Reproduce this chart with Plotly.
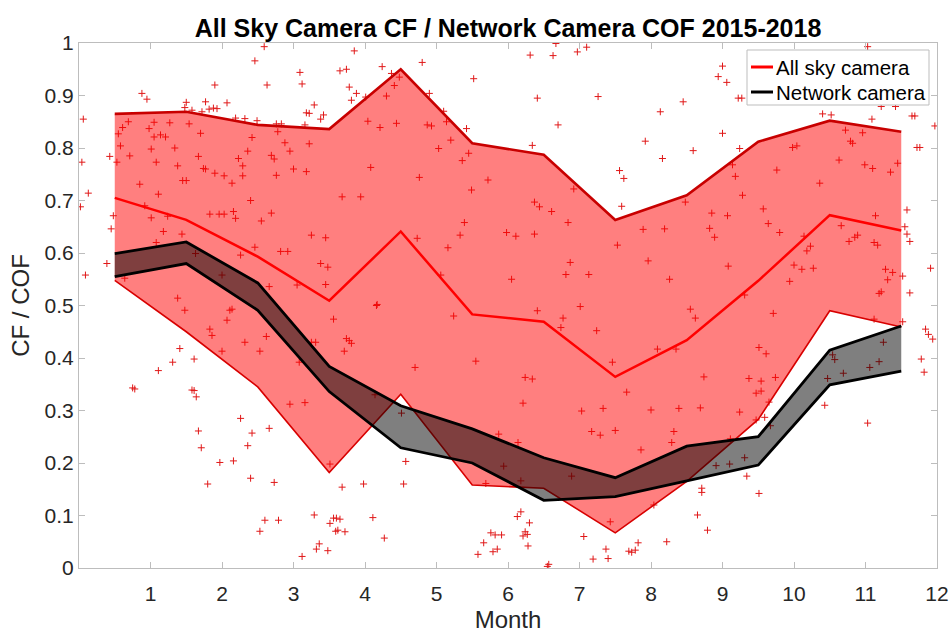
import plotly.graph_objects as go

# ---------------- data ----------------
month_pos = [0.5, 1.5, 2.5, 3.5, 4.5, 5.5, 6.5, 7.5, 8.5, 9.5, 10.5, 11.5]

sky_upper = [0.865, 0.869, 0.844, 0.836, 0.950, 0.809, 0.787, 0.663, 0.710, 0.812, 0.852, 0.831]
sky_median = [0.705, 0.663, 0.593, 0.509, 0.641, 0.483, 0.469, 0.364, 0.434, 0.547, 0.672, 0.643]
sky_lower = [0.548, 0.450, 0.345, 0.182, 0.331, 0.158, 0.152, 0.067, 0.165, 0.283, 0.490, 0.459]

net_upper = [0.599, 0.621, 0.543, 0.384, 0.309, 0.265, 0.210, 0.172, 0.232, 0.250, 0.415, 0.461]
net_lower = [0.555, 0.580, 0.491, 0.336, 0.229, 0.200, 0.129, 0.136, 0.166, 0.196, 0.349, 0.375]

series_names = ["All sky camera", "Network camera"]

pts_jan_mar_high = [
    (2.59, 0.993), (2.46, 0.966), (2.63, 0.92), (1.90, 0.92), (0.88, 0.904), (0.95, 0.893), (1.50, 0.887),
    (1.77, 0.888), (2.07, 0.886), (1.48, 0.877), (1.58, 0.872), (1.72, 0.869), (1.82, 0.874), (1.88, 0.876),
    (1.93, 0.875), (2.19, 0.857), (2.32, 0.856), (2.49, 0.852), (2.76, 0.846), (2.83, 0.846), (0.06, 0.855),
    (0.69, 0.85), (0.61, 0.839), (0.55, 0.827), (1.05, 0.849), (1.27, 0.848), (1.54, 0.846), (0.98, 0.837),
    (1.05, 0.821), (1.14, 0.825), (1.21, 0.821), (1.70, 0.828), (2.42, 0.82), (2.78, 0.831), (0.58, 0.804),
    (1.01, 0.798), (1.34, 0.80), (2.36, 0.794), (2.88, 0.81), (2.95, 0.794), (0.43, 0.784), (0.04, 0.773),
    (0.71, 0.785), (0.53, 0.773), (1.08, 0.773), (1.38, 0.766), (1.67, 0.784), (1.74, 0.761), (1.77, 0.76),
    (1.90, 0.752), (2.03, 0.747), (2.23, 0.78), (2.29, 0.766), (2.29, 0.747), (2.69, 0.786), (2.73, 0.779),
    (2.76, 0.748), (0.85, 0.731), (1.45, 0.738), (1.50, 0.738), (2.14, 0.733), (0.13, 0.714), (1.11, 0.712),
    (2.40, 0.70), (0.92, 0.69), (0.48, 0.671), (1.01, 0.667), (1.24, 0.67), (1.83, 0.674), (1.96, 0.674),
    (2.03, 0.674), (2.16, 0.679), (2.19, 0.666), (2.55, 0.661), (2.69, 0.676), (0.45, 0.646), (1.18, 0.641),
    (1.44, 0.636), (1.08, 0.62), (2.46, 0.611), (2.82, 0.603), (2.92, 0.603), (0.39, 0.58), (1.63, 0.599),
    (2.26, 0.596), (0.09, 0.558), (0.64, 0.552), (2.00, 0.558), (2.66, 0.536), (1.38, 0.514), (0.02, 0.688),
]
pts_apr_jun_high = [
    (3.85, 0.985), (3.09, 0.944), (3.12, 0.922), (3.65, 0.947), (3.74, 0.95), (4.24, 0.955), (4.80, 0.963),
    (5.52, 0.932), (3.78, 0.916), (3.88, 0.904), (3.81, 0.891), (4.01, 0.897), (4.37, 0.942), (4.41, 0.919),
    (4.48, 0.935), (4.30, 0.899), (4.90, 0.904), (3.29, 0.882), (3.18, 0.867), (3.22, 0.866), (3.42, 0.863),
    (3.38, 0.855), (3.16, 0.844), (4.04, 0.851), (4.21, 0.839), (4.44, 0.847), (4.87, 0.844), (4.93, 0.842),
    (5.10, 0.87), (5.14, 0.85), (5.42, 0.837), (3.22, 0.808), (5.20, 0.815), (5.03, 0.799), (5.45, 0.79),
    (5.36, 0.776), (3.00, 0.76), (3.18, 0.755), (4.08, 0.763), (4.76, 0.744), (5.72, 0.739), (5.49, 0.72),
    (3.68, 0.707), (3.94, 0.707), (5.39, 0.658), (5.98, 0.639), (3.25, 0.634), (3.45, 0.629), (4.73, 0.628),
    (5.33, 0.634), (5.16, 0.61), (3.38, 0.58), (3.48, 0.573), (5.06, 0.558), (3.45, 0.54), (3.05, 0.539),
    (4.17, 0.502),
]
pts_jul_sep_high = [
    (6.67, 0.999), (6.31, 0.977), (6.63, 0.976), (6.97, 0.983), (7.10, 0.992), (6.41, 0.895), (7.26, 0.898),
    (6.70, 0.844), (6.34, 0.805), (7.92, 0.813), (8.13, 0.869), (8.45, 0.888), (8.16, 0.78), (8.59, 0.795),
    (7.56, 0.757), (7.62, 0.742), (6.92, 0.722), (7.59, 0.689), (6.37, 0.697), (6.44, 0.688), (6.61, 0.679),
    (6.84, 0.658), (6.11, 0.632), (6.37, 0.636), (8.48, 0.697), (8.85, 0.676), (8.82, 0.647), (8.89, 0.63),
    (7.89, 0.645), (8.19, 0.646), (7.53, 0.615), (6.87, 0.582), (7.96, 0.585), (6.81, 0.559), (7.13, 0.559),
    (6.05, 0.55), (8.26, 0.55), (9.00, 0.956), (8.94, 0.936), (9.00, 0.828),
]
pts_oct_dec_high = [
    (11.03, 0.993), (9.06, 0.925), (9.22, 0.895), (9.27, 0.895), (10.40, 0.865), (10.52, 0.863), (11.09, 0.855),
    (11.22, 0.879), (11.42, 0.879), (11.65, 0.861), (11.69, 0.861), (11.97, 0.842), (10.72, 0.834),
    (10.79, 0.813), (10.82, 0.809), (10.96, 0.829), (11.72, 0.801), (11.76, 0.801), (9.24, 0.799), (9.98, 0.801),
    (10.04, 0.804), (10.63, 0.777), (10.99, 0.768), (11.10, 0.761), (11.35, 0.754), (11.45, 0.771),
    (9.14, 0.768), (9.18, 0.746), (9.76, 0.758), (10.36, 0.733), (9.28, 0.71), (9.57, 0.684), (9.64, 0.656),
    (9.80, 0.639), (10.14, 0.632), (10.18, 0.604), (10.23, 0.613), (10.66, 0.652), (10.77, 0.622),
    (10.85, 0.63), (10.89, 0.634), (11.14, 0.671), (11.12, 0.62), (11.17, 0.615), (11.58, 0.682), (11.55, 0.65),
    (11.58, 0.636), (11.62, 0.622), (9.07, 0.671), (9.08, 0.575), (10.00, 0.577), (10.11, 0.569),
    (10.27, 0.571), (9.94, 0.546), (11.28, 0.569), (11.38, 0.563), (11.31, 0.549), (11.52, 0.556),
    (11.19, 0.523), (11.22, 0.526), (11.62, 0.524), (11.91, 0.571), (9.31, 0.52),
]
pts_jan_mar_low = [
    (1.48, 0.491), (2.11, 0.491), (2.14, 0.493), (2.07, 0.472), (1.83, 0.455), (1.86, 0.443), (2.32, 0.43),
    (2.62, 0.441), (1.41, 0.418), (2.00, 0.413), (2.53, 0.413), (1.61, 0.398), (1.31, 0.392), (1.11, 0.376),
    (0.75, 0.343), (0.78, 0.341), (1.58, 0.339), (1.61, 0.338), (1.64, 0.326), (2.95, 0.312), (2.26, 0.285),
    (2.42, 0.257), (2.66, 0.266), (1.67, 0.261), (2.36, 0.233), (1.71, 0.229), (1.97, 0.201), (2.16, 0.204),
    (2.40, 0.171), (2.73, 0.163), (1.80, 0.16), (2.60, 0.091), (2.79, 0.091), (2.53, 0.07),
]
pts_apr_jun_low = [
    (4.16, 0.5), (3.56, 0.474), (5.24, 0.48), (3.74, 0.437), (3.78, 0.433), (3.81, 0.428), (3.31, 0.43),
    (3.25, 0.43), (3.71, 0.413), (3.08, 0.392), (4.70, 0.382), (5.55, 0.394), (3.16, 0.315), (4.14, 0.33),
    (4.51, 0.295), (5.87, 0.255), (5.94, 0.194), (3.51, 0.198), (4.57, 0.203), (5.69, 0.161), (3.68, 0.154),
    (3.98, 0.16), (4.54, 0.16), (3.29, 0.101), (3.51, 0.085), (3.56, 0.095), (3.60, 0.095), (3.65, 0.093),
    (4.11, 0.096), (3.59, 0.07), (3.62, 0.072), (3.72, 0.069), (4.27, 0.057), (3.36, 0.046), (3.32, 0.036),
    (3.48, 0.033), (3.12, 0.022), (5.76, 0.067), (5.82, 0.063), (5.91, 0.063), (5.66, 0.048), (5.58, 0.026),
    (5.79, 0.031), (5.85, 0.036),
]
pts_jul_sep_low = [
    (6.41, 0.49), (7.01, 0.498), (6.77, 0.476), (6.74, 0.458), (7.24, 0.452), (8.55, 0.493), (8.62, 0.476),
    (8.09, 0.417), (8.35, 0.417), (7.46, 0.392), (8.74, 0.364), (6.24, 0.363), (6.34, 0.36), (7.66, 0.335),
    (6.21, 0.314), (7.03, 0.299), (7.33, 0.304), (8.00, 0.301), (8.39, 0.304), (8.69, 0.305), (7.17, 0.26),
    (7.29, 0.253), (7.50, 0.262), (8.32, 0.26), (8.29, 0.239), (7.86, 0.225), (6.14, 0.239), (6.89, 0.175),
    (6.18, 0.166), (8.91, 0.195), (8.71, 0.152), (8.71, 0.144), (8.04, 0.12), (8.65, 0.101), (8.79, 0.072),
    (7.43, 0.088), (8.22, 0.05), (7.06, 0.06), (7.82, 0.048), (7.69, 0.032), (7.73, 0.03), (7.78, 0.034),
    (7.37, 0.036), (7.40, 0.018), (7.19, 0.017), (6.55, 0.003), (6.57, 0.007), (6.13, 0.098), (6.18, 0.107),
    (6.30, 0.086), (6.24, 0.069), (6.27, 0.064), (6.21, 0.061), (6.28, 0.042),
]
pts_oct_dec_low = [
    (9.71, 0.485), (11.12, 0.474), (11.52, 0.469), (11.84, 0.455), (11.88, 0.445), (11.94, 0.436), (9.51, 0.42),
    (9.61, 0.408), (11.25, 0.43), (10.54, 0.406), (10.57, 0.397), (11.78, 0.398), (11.82, 0.373),
    (11.19, 0.393), (11.06, 0.382), (9.37, 0.361), (9.54, 0.356), (9.74, 0.363), (9.47, 0.333), (9.54, 0.337),
    (10.47, 0.361), (10.69, 0.371), (9.65, 0.316), (9.24, 0.297), (9.47, 0.282), (9.59, 0.287), (9.67, 0.271),
    (10.43, 0.31), (11.03, 0.276), (9.11, 0.246), (9.10, 0.198), (9.31, 0.21), (9.34, 0.175), (9.51, 0.142),
]

x_ticks = [1, 2, 3, 4, 5, 6, 7, 8, 9, 10, 11, 12]
y_ticks = [0, 0.1, 0.2, 0.3, 0.4, 0.5, 0.6, 0.7, 0.8, 0.9, 1]
y_tick_labels = ["0", "0.1", "0.2", "0.3", "0.4", "0.5", "0.6", "0.7", "0.8", "0.9", "1"]

# ---------------- figure ----------------
all_pts = (pts_jan_mar_high + pts_apr_jun_high + pts_jul_sep_high + pts_oct_dec_high +
           pts_jan_mar_low + pts_apr_jun_low + pts_jul_sep_low + pts_oct_dec_low)
sx = [p[0] for p in all_pts]
sy = [p[1] for p in all_pts]

FONT = "Liberation Sans, Arial, sans-serif"
AX = "#bdbdbd"
W, H = 952, 633
L, R, T, B = 79, 15, 43, 65
PW, PH = W - L - R, H - T - B
fig = go.Figure()

fig.add_trace(go.Scatter(
    x=sx, y=sy, mode="markers", showlegend=False, hoverinfo="skip",
    marker=dict(symbol="cross-thin", size=5, line=dict(color="#e01818", width=1), color="#e01818"),
))

# red band
fig.add_trace(go.Scatter(
    x=month_pos + month_pos[::-1], y=sky_upper + sky_lower[::-1],
    fill="toself", fillcolor="rgba(255,0,0,0.5)", mode="lines",
    line=dict(width=0), showlegend=False, hoverinfo="skip",
))
fig.add_trace(go.Scatter(x=month_pos, y=sky_upper, mode="lines", showlegend=False,
                         line=dict(color="#c80000", width=2.6)))
fig.add_trace(go.Scatter(x=month_pos, y=sky_lower, mode="lines", showlegend=False,
                         line=dict(color="#d80000", width=1.6)))
fig.add_trace(go.Scatter(x=month_pos, y=sky_median, mode="lines", name=series_names[0], showlegend=False,
                         line=dict(color="#ff0000", width=2.5)))

# black band
fig.add_trace(go.Scatter(
    x=month_pos + month_pos[::-1], y=net_upper + net_lower[::-1],
    fill="toself", fillcolor="rgba(0,0,0,0.5)", mode="lines",
    line=dict(width=0), showlegend=False, hoverinfo="skip",
))
fig.add_trace(go.Scatter(x=month_pos, y=net_upper, mode="lines", name=series_names[1], showlegend=False,
                         line=dict(color="#000000", width=2.8)))
fig.add_trace(go.Scatter(x=month_pos, y=net_lower, mode="lines", showlegend=False,
                         line=dict(color="#000000", width=2.8)))

axis_common = dict(
    showline=True, linecolor=AX, linewidth=1, mirror="ticks",
    ticks="inside", ticklen=6, tickcolor=AX, tickwidth=1,
    showgrid=False, zeroline=False, automargin=False,
    tickfont=dict(family=FONT, size=21, color="#262626"),
)

# legend box (MATLAB-style, short line samples)
def px2paper(px, py):
    return (px - L) / float(PW), (H - B - py) / float(PH)

lx0, ly0 = px2paper(747, 105)
lx1, ly1 = px2paper(929, 50)
shapes = [dict(type="rect", xref="paper", yref="paper", x0=lx0, y0=ly0, x1=lx1, y1=ly1,
               line=dict(color=AX, width=1), fillcolor="white", layer="above")]
annotations = []
for name, color, py in [(series_names[0], "#ff0000", 67), (series_names[1], "#000000", 92)]:
    sx0, sy0 = px2paper(751, py)
    sx1, _ = px2paper(773, py)
    tx, _ = px2paper(774, py)
    shapes.append(dict(type="line", xref="paper", yref="paper", x0=sx0, x1=sx1, y0=sy0, y1=sy0,
                       line=dict(color=color, width=3), layer="above"))
    annotations.append(dict(xref="paper", yref="paper", x=tx, y=sy0, xanchor="left", yanchor="middle",
                            text=name, showarrow=False,
                            font=dict(family=FONT, size=20.5, color="#000000")))

fig.update_layout(
    width=W, height=H,
    margin=dict(l=L, r=R, t=T, b=B, autoexpand=False),
    paper_bgcolor="white", plot_bgcolor="white",
    title=dict(text="<b>All Sky Camera CF / Network Camera COF 2015-2018</b>",
               x=(L + PW / 2) / W, xanchor="center", y=1 - 28 / H, yanchor="middle",
               font=dict(family=FONT, size=25, color="#000000")),
    xaxis=dict(range=[0, 12], tickvals=x_ticks, ticktext=[str(v) for v in x_ticks],
               ticklabelstandoff=7,
               title=dict(text="Month", font=dict(family=FONT, size=24, color="#262626"), standoff=7),
               **axis_common),
    yaxis=dict(range=[0, 1], tickvals=y_ticks, ticktext=y_tick_labels,
               title=dict(text="CF / COF", font=dict(family=FONT, size=24, color="#262626"), standoff=8),
               **axis_common),
    shapes=shapes,
    annotations=annotations,
    showlegend=False,
)

# remove the browser's default 8px body margin so the 952x633 figure fills the window exactly
fig.write_html("out.html", config={"displayModeBar": False},
               post_script="document.body.style.margin='0px';document.body.style.overflow='hidden';")
